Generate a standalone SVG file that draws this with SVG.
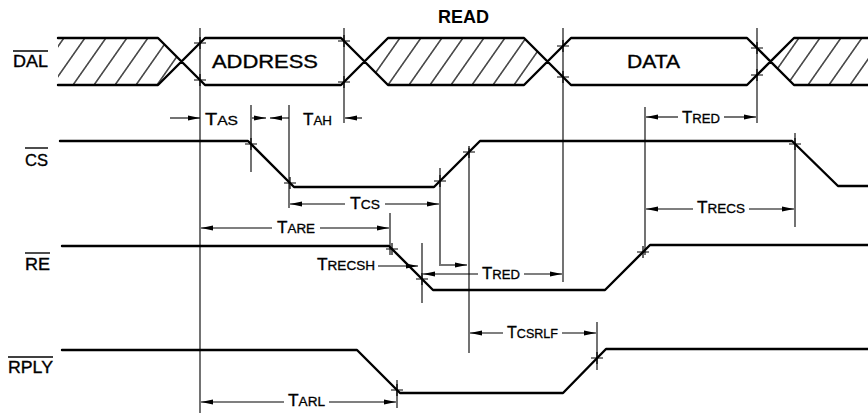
<svg xmlns="http://www.w3.org/2000/svg" width="868" height="415" viewBox="0 0 868 415">
<style>
.sig{fill:none;stroke:#000;stroke-width:2.4;stroke-linejoin:round;stroke-linecap:round}
.ref{fill:none;stroke:#000;stroke-width:1.1}
.dim{fill:none;stroke:#000;stroke-width:1.1;marker-end:url(#ah)}
.ov{stroke:#000;stroke-width:1.4}
.lbl{font-family:"Liberation Sans",Arial,sans-serif;font-size:17px;fill:#000;stroke:#000;stroke-width:0.35}
.box{font-family:"Liberation Sans",Arial,sans-serif;font-size:18px;fill:#000;stroke:#000;stroke-width:0.35}
.t{font-family:"Liberation Sans",Arial,sans-serif;font-size:16px;fill:#000;stroke:#000;stroke-width:0.3}
.s{font-size:12.5px}
.tick{fill:none;stroke:#000;stroke-width:1.2}
</style>
<defs>
<marker id="ah" markerUnits="userSpaceOnUse" markerWidth="13" markerHeight="7" refX="12" refY="3.5" orient="auto">
<path d="M0,1 L12,3.5 L0,6 z" fill="#000"/>
</marker>
<pattern id="hatch" patternUnits="userSpaceOnUse" width="21" height="10" patternTransform="translate(0,85) skewX(-35)">
<line x1="10" y1="-1" x2="10" y2="11" stroke="#000" stroke-width="1.4"/>
</pattern>
<path id="tk" class="tick" d="M-6,0H6M0,-6V6"/>
</defs>
<rect width="868" height="415" fill="#fff"/>
<text x="438" y="23" font-family="Liberation Sans, Arial, sans-serif" font-size="18" font-weight="bold">READ</text>

<g id="refs">
<path class="ref" d="M200,28V413M251,105V172M289,105V208M344,28V123M390,213V255M422,243V303M440,168V266M469,148V353M563,28V282M597,322V370M645,107V255M757,28V123M795,133V227M397,380V408"/>
</g>

<g id="dal">
<polygon points="58,38 158,38 181.5,61.5 158,85 58,85" fill="url(#hatch)"/>
<polygon points="364.5,61.5 388,38 524,38 547.5,61.5 524,85 388,85" fill="url(#hatch)"/>
<polygon points="770.5,61.5 794,38 868,38 868,85 794,85" fill="url(#hatch)"/>
<path class="sig" d="M58,38H158L205,85H341L388,38H524L571,85H747L794,38H868M58,85H158L205,38H341L388,85H524L571,38H747L794,85H868"/>
<text class="lbl" x="13" y="67" textLength="35" lengthAdjust="spacingAndGlyphs">DAL</text>
<line class="ov" x1="13" y1="51" x2="48" y2="51"/>
<text class="box" x="212" y="68" textLength="106" lengthAdjust="spacingAndGlyphs">ADDRESS</text>
<text class="box" x="627" y="68" textLength="53" lengthAdjust="spacingAndGlyphs">DATA</text>
<use href="#tk" x="200" y="43"/><use href="#tk" x="200" y="80"/>
<use href="#tk" x="344" y="41"/><use href="#tk" x="344" y="82"/>
<use href="#tk" x="563" y="46"/><use href="#tk" x="563" y="77"/>
<use href="#tk" x="757" y="48"/><use href="#tk" x="757" y="75"/>
</g>

<g id="cs">
<polyline class="sig" points="60,141 248,141 294,187 434,187 480,141 792,141 838,186 868,186"/>
<text class="lbl" x="25" y="166" textLength="23" lengthAdjust="spacingAndGlyphs">CS</text>
<line class="ov" x1="25" y1="148" x2="48" y2="148"/>
<use href="#tk" x="251" y="144"/><use href="#tk" x="290" y="183"/>
<use href="#tk" x="440" y="181"/><use href="#tk" x="469" y="152"/>
<use href="#tk" x="795" y="144"/>
</g>

<g id="re">
<polyline class="sig" points="62,246 389,246 433,290 605,290 650,245 868,245"/>
<text class="lbl" x="25" y="270" textLength="25" lengthAdjust="spacingAndGlyphs">RE</text>
<line class="ov" x1="25" y1="253" x2="50" y2="253"/>
<use href="#tk" x="392" y="249"/><use href="#tk" x="422" y="279"/>
<use href="#tk" x="643" y="252"/>
</g>

<g id="rply">
<polyline class="sig" points="62,350 357,350 400,393 563,393 606,349 868,349"/>
<text class="lbl" x="8" y="373" textLength="45" lengthAdjust="spacingAndGlyphs">RPLY</text>
<line class="ov" x1="8" y1="357" x2="53" y2="357"/>
<use href="#tk" x="397" y="390"/><use href="#tk" x="597" y="358"/>
</g>

<g id="dims">
<line class="dim" x1="170" y1="118" x2="200" y2="118"/>
<text class="t" x="205" y="125" textLength="33" lengthAdjust="spacingAndGlyphs">T<tspan class="s">AS</tspan></text>
<line class="dim" x1="252" y1="118" x2="266" y2="118"/>
<line class="dim" x1="289" y1="118" x2="270" y2="118"/>
<text class="t" x="303" y="125" textLength="29" lengthAdjust="spacingAndGlyphs">T<tspan class="s">AH</tspan></text>
<line class="dim" x1="362" y1="118" x2="345" y2="118"/>

<line class="dim" x1="345" y1="204" x2="290" y2="204"/>
<text class="t" x="350" y="209" textLength="30" lengthAdjust="spacingAndGlyphs">T<tspan class="s">CS</tspan></text>
<line class="dim" x1="385" y1="204" x2="439" y2="204"/>

<line class="dim" x1="272" y1="228" x2="201" y2="228"/>
<text class="t" x="277" y="233" textLength="38" lengthAdjust="spacingAndGlyphs">T<tspan class="s">ARE</tspan></text>
<line class="dim" x1="320" y1="228" x2="389" y2="228"/>

<text class="t" x="317" y="270" textLength="58" lengthAdjust="spacingAndGlyphs">T<tspan class="s">RECSH</tspan></text>
<line class="dim" x1="378" y1="266" x2="418" y2="266"/>

<line class="dim" x1="441" y1="265" x2="467" y2="265"/>

<line class="dim" x1="478" y1="274" x2="423" y2="274"/>
<text class="t" x="482" y="279" textLength="38" lengthAdjust="spacingAndGlyphs">T<tspan class="s">RED</tspan></text>
<line class="dim" x1="524" y1="274" x2="562" y2="274"/>

<line class="dim" x1="678" y1="117" x2="646" y2="117"/>
<text class="t" x="682" y="123" textLength="38" lengthAdjust="spacingAndGlyphs">T<tspan class="s">RED</tspan></text>
<line class="dim" x1="724" y1="117" x2="756" y2="117"/>

<line class="dim" x1="693" y1="209" x2="646" y2="209"/>
<text class="t" x="697" y="213" textLength="48" lengthAdjust="spacingAndGlyphs">T<tspan class="s">RECS</tspan></text>
<line class="dim" x1="749" y1="209" x2="794" y2="209"/>

<line class="dim" x1="503" y1="333" x2="470" y2="333"/>
<text class="t" x="507" y="338" textLength="51" lengthAdjust="spacingAndGlyphs">T<tspan class="s">CSRLF</tspan></text>
<line class="dim" x1="562" y1="333" x2="596" y2="333"/>

<line class="dim" x1="284" y1="402" x2="201" y2="402"/>
<text class="t" x="288" y="406" textLength="37" lengthAdjust="spacingAndGlyphs">T<tspan class="s">ARL</tspan></text>
<line class="dim" x1="329" y1="402" x2="396" y2="402"/>
</g>
</svg>
